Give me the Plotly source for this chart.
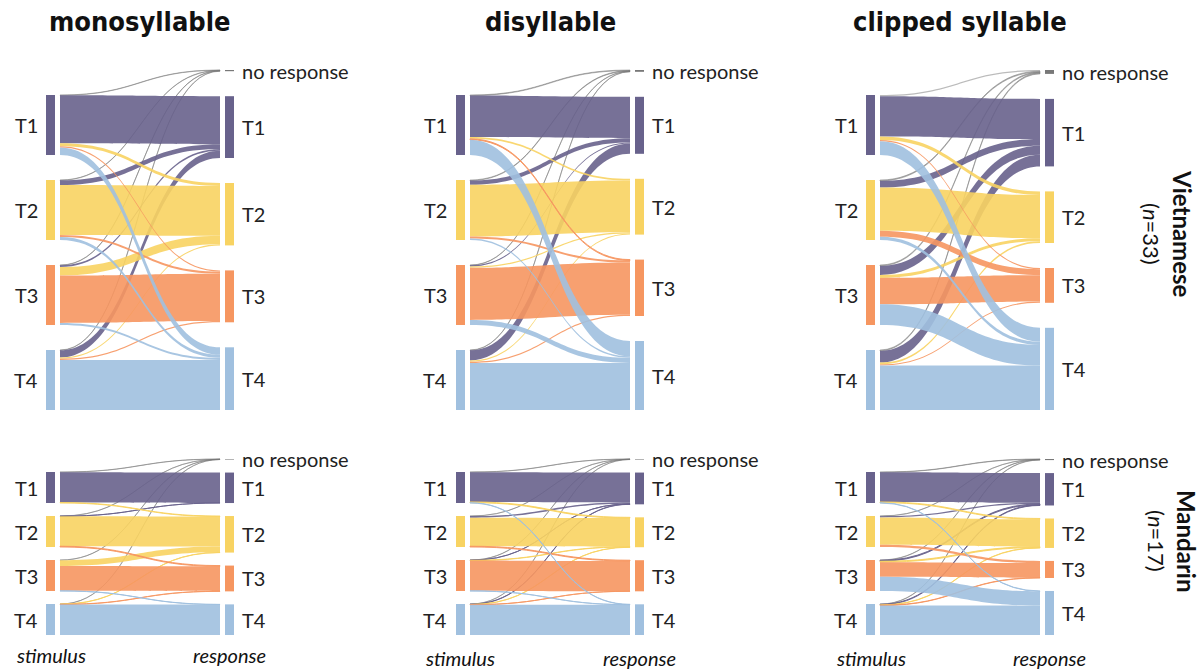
import plotly.graph_objects as go

stimulus_tones = ["T1", "T2", "T3", "T4"]
response_labels = ["no response", "T1", "T2", "T3", "T4"]
conditions = ["monosyllable", "disyllable", "clipped syllable"]
groups = ["Vietnamese", "Mandarin"]
group_sizes = [33, 17]

# Percentage of trials for each stimulus tone (rows T1..T4),
# split by response (columns: no response, T1, T2, T3, T4)
vietnamese_mono = [
    [0.5, 80.0, 5.0, 2.0, 12.5],
    [0.5, 8.0, 83.0, 3.5, 5.0],
    [0.5, 3.0, 14.0, 79.0, 3.5],
    [0.5, 12.0, 2.0, 2.0, 83.5],
]
vietnamese_di = [
    [1.0, 69.0, 3.0, 1.5, 25.5],
    [1.0, 7.0, 86.0, 3.5, 2.5],
    [0.5, 2.0, 2.0, 87.0, 8.5],
    [0.5, 17.0, 2.0, 2.0, 78.5],
]
vietnamese_clipped = [
    [2.0, 67.0, 6.0, 2.0, 23.0],
    [1.5, 11.0, 72.0, 10.0, 5.5],
    [1.5, 15.0, 5.0, 44.0, 34.5],
    [1.5, 19.5, 3.0, 2.0, 74.0],
]
mandarin_mono = [
    [0.5, 98.0, 1.5, 0.0, 0.0],
    [0.5, 0.3, 96.7, 2.5, 0.0],
    [0.5, 0.0, 19.0, 80.0, 0.5],
    [0.3, 0.0, 0.7, 0.7, 98.3],
]
mandarin_di = [
    [0.5, 96.0, 2.5, 0.0, 1.0],
    [0.3, 5.0, 92.2, 2.5, 0.0],
    [0.5, 0.5, 1.0, 97.5, 0.5],
    [0.5, 1.0, 0.7, 0.3, 97.5],
]
mandarin_clipped = [
    [1.0, 95.5, 2.5, 0.0, 1.0],
    [0.5, 4.0, 88.5, 7.0, 0.0],
    [1.0, 3.0, 3.0, 47.0, 46.0],
    [1.0, 2.0, 1.0, 1.0, 95.0],
]

panels = {
    ("Vietnamese", "monosyllable"): vietnamese_mono,
    ("Vietnamese", "disyllable"): vietnamese_di,
    ("Vietnamese", "clipped syllable"): vietnamese_clipped,
    ("Mandarin", "monosyllable"): mandarin_mono,
    ("Mandarin", "disyllable"): mandarin_di,
    ("Mandarin", "clipped syllable"): mandarin_clipped,
}

tone_rgb = {"T1": (104, 98, 140), "T2": (248, 211, 98), "T3": (246, 150, 96), "T4": (160, 192, 223)}
no_response_rgb = (120, 120, 120)

# ---- page geometry (pixels) ----
W, H = 1203, 672
col_left = [50.5, 460.5, 870.5]      # centre of the stimulus bars per column
col_span = 179                        # distance stimulus bar -> response bar
side = 12
rows = {"Vietnamese": (70, 410, 25), "Mandarin": (459, 635, 13)}  # top, bottom, node gap
flow_thickness = 19   # links stop at the edge of this (invisible) node
bar_thickness = 9     # visible bar drawn on top, leaving a small white gap

label_font = dict(family="Lato", size=20, color="#222222")


def rgba(rgb, a):
    return "rgba(%d,%d,%d,%.2f)" % (rgb[0], rgb[1], rgb[2], a)


def px_x(x):
    return x / W


def px_y(y):
    return 1 - y / H


fig = go.Figure()
annotations = []

for gi, group in enumerate(groups):
    top, bottom, pad = rows[group]
    dh = bottom - top
    p = pad / dh
    for ci, cond in enumerate(conditions):
        m = panels[(group, cond)]
        row_tot = [sum(r) for r in m]
        col_tot = [sum(m[i][j] for i in range(4)) for j in range(5)]
        total = sum(row_tot)
        kf = (1 - 4 * p) / total

        # response column fills the height from the top, stimulus column sits on the bottom
        resp_y = []
        cum = 0.0
        for v in col_tot:
            h = v * kf
            resp_y.append(cum + h / 2)
            cum += h + p
        stim_y = [0.0] * 4
        cum = 0.0
        for i in range(3, -1, -1):
            h = row_tot[i] * kf
            stim_y[i] = 1 - cum - h / 2
            cum += h + p

        dw = col_span + 2 * side
        x_left = side / dw
        x_right = (side + col_span) / dw

        node_colors = [rgba(tone_rgb[t], 1) for t in stimulus_tones] + [rgba(no_response_rgb, 1)] + \
                      [rgba(tone_rgb[t], 1) for t in stimulus_tones]

        src, tgt, val, lcol = [], [], [], []
        for j in range(5):
            for i in range(4):
                if m[i][j] <= 0:
                    continue
                src.append(i)
                tgt.append(4 + j)
                val.append(m[i][j])
                if j == 0:
                    lcol.append(rgba(no_response_rgb, 0.5))
                else:
                    lcol.append(rgba(tone_rgb[response_labels[j]], 0.9))

        dom_x0 = col_left[ci] - side
        dom_x1 = col_left[ci] + col_span + side
        domain = dict(x=[px_x(dom_x0), px_x(dom_x1)], y=[px_y(bottom), px_y(top)])
        node_x = [x_left] * 4 + [x_right] * 5
        node_y = stim_y + resp_y

        # flows
        fig.add_trace(go.Sankey(
            arrangement="fixed", domain=domain,
            node=dict(label=[""] * 9, x=node_x, y=node_y, pad=pad,
                      thickness=flow_thickness, color="rgba(0,0,0,0)",
                      line=dict(width=0)),
            link=dict(source=src, target=tgt, value=val, color=lcol),
            hoverinfo="none",
        ))
        # bars
        fig.add_trace(go.Sankey(
            arrangement="fixed", domain=domain,
            node=dict(label=[""] * 9, x=node_x, y=node_y, pad=pad,
                      thickness=bar_thickness, color=node_colors,
                      line=dict(width=0)),
            link=dict(source=src, target=tgt, value=val, color="rgba(0,0,0,0)"),
            hoverinfo="none",
        ))

        lx = col_left[ci]
        rx = col_left[ci] + col_span
        for i, t in enumerate(stimulus_tones):
            annotations.append(dict(
                x=px_x(lx), y=px_y(top + stim_y[i] * dh), text=t, showarrow=False,
                xanchor="right", yanchor="middle", xshift=-11, font=label_font))
        for j, t in enumerate(response_labels):
            annotations.append(dict(
                x=px_x(rx), y=px_y(top + resp_y[j] * dh), text=t, showarrow=False,
                xanchor="left", yanchor="middle", xshift=10, font=label_font))

        if gi == 0:
            annotations.append(dict(
                x=px_x(lx + col_span / 2), y=px_y(21), text=cond, showarrow=False,
                xanchor="center", yanchor="middle",
                font=dict(family="DejaVu Sans Condensed", size=27, color="#111111", weight="bold")))
        else:
            by = 655 if ci == 0 else 658
            for xx, txt in [(lx, "stimulus"), (rx, "response")]:
                annotations.append(dict(
                    x=px_x(xx), y=px_y(by), text=txt, showarrow=False,
                    xanchor="center", yanchor="middle",
                    font=dict(family="Lato", size=20, color="#111111", style="italic")))

# group names on the right margin
group_pos = {"Vietnamese": (1183, 1152, 234), "Mandarin": (1187, 1157, 541)}
for group, n in zip(groups, group_sizes):
    gx, nx, gy = group_pos[group]
    annotations.append(dict(
        x=px_x(gx), y=px_y(gy), text=group, showarrow=False, textangle=90,
        xanchor="center", yanchor="middle",
        font=dict(family="Lato", size=24, color="#111111", weight="bold")))
    annotations.append(dict(
        x=px_x(nx), y=px_y(gy), text="(<i>n</i>=%d)" % n, showarrow=False, textangle=90,
        xanchor="center", yanchor="middle",
        font=dict(family="Lato", size=22, color="#111111")))

fig.update_layout(
    width=W, height=H,
    margin=dict(l=0, r=0, t=0, b=0),
    paper_bgcolor="white", plot_bgcolor="white",
    annotations=annotations,
    showlegend=False,
)

fig.write_html("out.html")
